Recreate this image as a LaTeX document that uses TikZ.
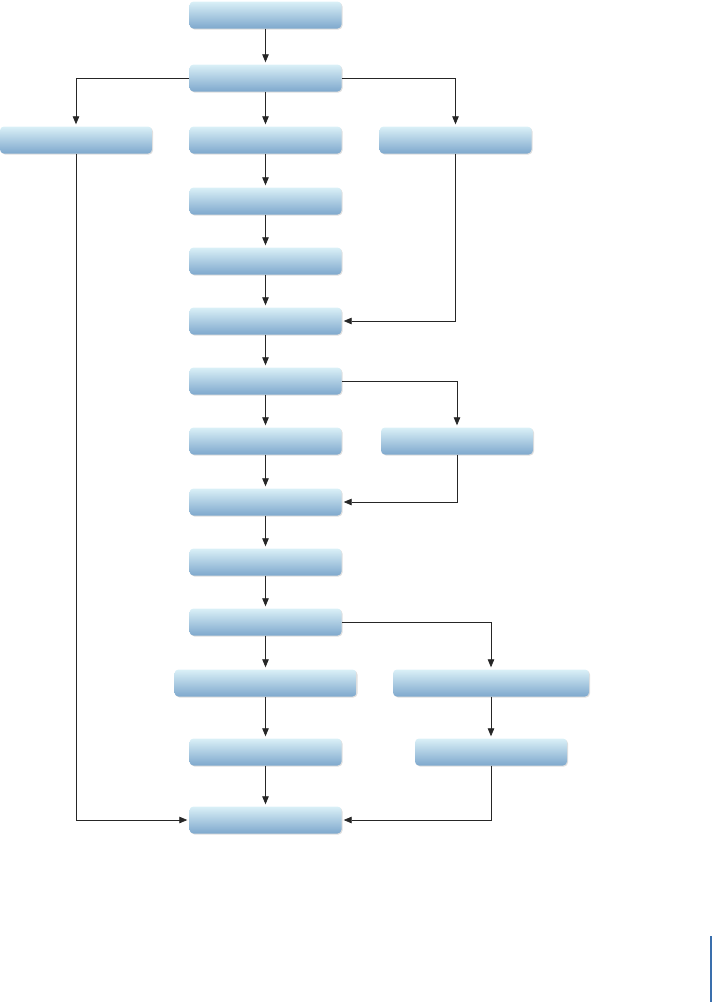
\documentclass[tikz,border=0pt]{standalone}
\usepackage{tikz}
\usetikzlibrary{arrows.meta}
\usetikzlibrary{shadows}

\definecolor{boxtop}{HTML}{DAF0F7}
\definecolor{boxbot}{HTML}{7EA8CD}
\definecolor{edgeblue}{HTML}{3A6FAD}

\begin{document}
\begin{tikzpicture}[x=1pt, y=-1pt,
                        box/.style={rectangle, rounded corners=4pt, minimum width=152pt,
                                    minimum height=27pt, inner sep=0pt,
                                    top color=boxtop, bottom color=boxbot,
                                    drop shadow={opacity=.25, shadow xshift=1pt, shadow yshift=-1pt}},
                        link/.style={draw=black!85, line width=.8pt,
                                     -{Triangle[length=8pt, width=6.5pt]}, shorten >=2pt}]
      \useasboundingbox (0,0) rectangle (712,1002);

      \node[box] (1) at (265.5,15) {};
      \node[box] (2) at (265.5,78) {};
      \node[box] (3) at (265.5,140) {};
      \node[box] (4) at (265.5,201) {};
      \node[box] (5) at (265.5,261) {};
      \node[box] (6) at (265.5,321) {};
      \node[box] (7) at (265.5,381) {};
      \node[box] (8) at (265.5,441) {};
      \node[box] (9) at (265.5,502) {};
      \node[box] (10) at (265.5,562) {};
      \node[box] (11) at (265.5,622) {};
      \node[box, minimum width=182pt] (12) at (265.5,683) {};
      \node[box] (13) at (265.5,752) {};
      \node[box] (14) at (265.5,820) {};
      \node[box] (15) at (76,140) {};
      \node[box] (16) at (455.5,140) {};
      \node[box] (17) at (457,441) {};
      \node[box, minimum width=196pt] (18) at (491,683) {};
      \node[box] (19) at (491,752) {};

      \foreach \x/\y in {1/2, 2/3, 3/4, 4/5, 5/6, 6/7, 7/8, 8/9,
                         9/10, 10/11, 11/12, 12/13, 13/14, 18/19}
        \draw[link] (\x) -- (\y);

      \draw[link] (2.west) -| (15);
      \draw[link] (2.east) -| (16);
      \draw[link] (15) |- (14);
      \draw[link] (16) |- (6);
      \draw[link] (7.east) -| (17);
      \draw[link] (17) |- (9);
      \draw[link] (11.east) -| (18);
      \draw[link] (19) |- (14);

      \draw[edgeblue, line width=1.4pt] (711,936) -- (711,1002);
    \end{tikzpicture}
\end{document}
